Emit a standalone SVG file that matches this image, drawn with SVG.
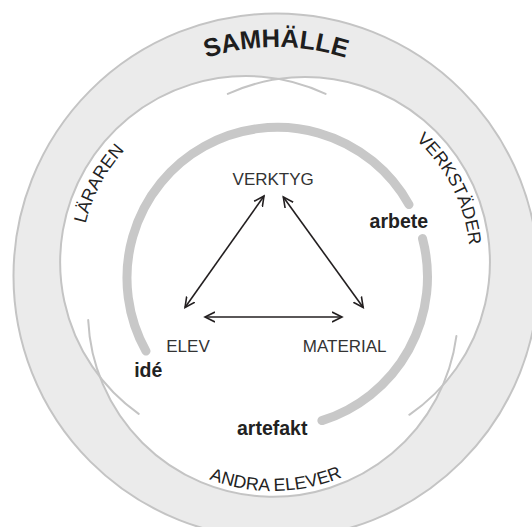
<svg xmlns="http://www.w3.org/2000/svg" width="532" height="527" viewBox="0 0 532 527">
<style>
.band{fill:#ebebeb;stroke:#c4c4c4;stroke-width:2}
.hole{fill:#ffffff;stroke:none}
.ring{fill:none;stroke:#c4c4c4;stroke-width:2;stroke-linecap:round}
.cycle{fill:none;stroke:#c8c8c8;stroke-width:9;stroke-linecap:round}
.arrow{fill:none;stroke:#231f20;stroke-width:1.6;marker-start:url(#ah);marker-end:url(#ah)}
.lbl{font-family:"Liberation Sans",Arial,sans-serif;font-size:17px;fill:#333333;text-anchor:middle}
.bold{font-family:"Liberation Sans",Arial,sans-serif;font-size:19.5px;font-weight:bold;fill:#222222;text-anchor:middle}
.big{font-family:"Liberation Sans",Arial,sans-serif;font-size:25.5px;font-weight:bold;fill:#1e1e1e}
.curv{font-family:"Liberation Sans",Arial,sans-serif;font-size:17.8px;fill:#222222}
</style>
<defs>
<marker id="ah" viewBox="0 0 12 12" refX="10" refY="6" markerWidth="12" markerHeight="12" markerUnits="userSpaceOnUse" orient="auto-start-reverse">
<path d="M0,1 L10,6 L0,11" fill="none" stroke="#231f20" stroke-width="1.6"/>
</marker>
<path id="pSam" d="M161.5,77.7 A229,229 0 0 1 390.5,77.7"/>
<path id="pLar" d="M81.1,267.8 A165,165 0 0 1 158.6,122.1"/>
<path id="pVer" d="M395.4,123.9 A165,165 0 0 1 469.7,271.2"/>
<path id="pAnd" d="M186,468.4 A179,179 0 0 0 364.9,465.6"/>
</defs>

<g id="samhalle">
<circle class="band" cx="276" cy="276" r="262.5"/>
<text class="big"><textPath href="#pSam" startOffset="50%" text-anchor="middle">SAMHÄLLE</textPath></text>
</g>

<g id="fills">
<circle class="hole" cx="246" cy="262" r="186"/>
<circle class="hole" cx="305" cy="262" r="185"/>
<circle class="hole" cx="273" cy="312" r="185"/>
</g>

<g id="lararen">
<path class="ring" d="M138.7,413.9 A186,186 0 0 1 325.6,93.9"/>
<text class="curv"><textPath href="#pLar" startOffset="50%" text-anchor="middle">LÄRAREN</textPath></text>
</g>

<g id="verkstader">
<path class="ring" d="M227.8,93.9 A185,185 0 0 1 409.3,414.8"/>
<text class="curv"><textPath href="#pVer" startOffset="50%" text-anchor="middle">VERKSTÄDER</textPath></text>
</g>

<g id="andra-elever">
<path class="ring" d="M456.4,336.1 A185,185 0 0 1 88.2,320.1"/>
<text class="curv"><textPath href="#pAnd" startOffset="50%" text-anchor="middle">ANDRA ELEVER</textPath></text>
</g>

<g id="process">
<path class="cycle" d="M146,351.1 A150.5,150.5 0 1 1 409,204.6"/>
<path class="cycle" d="M422.5,238.5 A150.5,150.5 0 0 1 321.9,420.6"/>
</g>

<g id="ide"><text class="bold" x="148.3" y="377.3">idé</text></g>
<g id="arbete"><text class="bold" x="398.8" y="228.3">arbete</text></g>
<g id="artefakt"><text class="bold" x="272.2" y="435">artefakt</text></g>

<g id="verktyg"><text class="lbl" x="273.2" y="185">VERKTYG</text></g>
<g id="elev"><text class="lbl" x="188" y="351.7">ELEV</text></g>
<g id="material"><text class="lbl" x="344.7" y="351.7">MATERIAL</text></g>

<g id="connectors">
<line class="arrow" x1="185" y1="307.5" x2="264" y2="196"/>
<line class="arrow" x1="283.3" y1="197" x2="363.2" y2="307.5"/>
<line class="arrow" x1="205" y1="317" x2="342" y2="317"/>
</g>
</svg>
